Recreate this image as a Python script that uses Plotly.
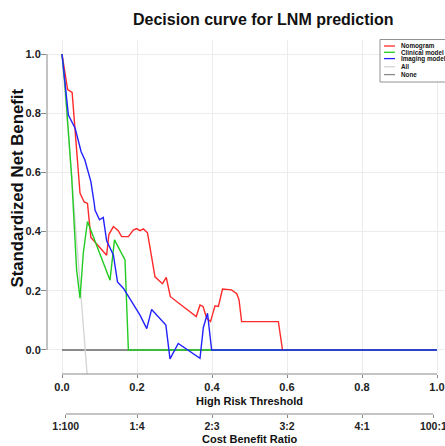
import plotly.graph_objects as go

# ---------------- data ----------------
nomogram_x = [0, 0.015, 0.027, 0.048, 0.059, 0.068, 0.077, 0.095, 0.113, 0.119, 0.125, 0.137,
              0.150, 0.159, 0.177, 0.190, 0.199, 0.208, 0.217, 0.228, 0.248, 0.268, 0.278,
              0.289, 0.358, 0.368, 0.376, 0.386, 0.396, 0.408, 0.417, 0.428, 0.452, 0.466,
              0.472, 0.479, 0.577, 0.588, 1.0]
nomogram_y = [1.0, 0.88, 0.87, 0.53, 0.50, 0.495, 0.38, 0.355, 0.327, 0.32, 0.39, 0.417,
              0.403, 0.383, 0.383, 0.405, 0.41, 0.403, 0.409, 0.396, 0.247, 0.224, 0.245,
              0.18, 0.113, 0.152, 0.147, 0.107, 0.096, 0.149, 0.147, 0.206, 0.203, 0.19,
              0.17, 0.096, 0.096, 0.0, 0.0]

clinical_x = [0, 0.008, 0.026, 0.039, 0.048, 0.057, 0.068, 0.128, 0.140, 0.168, 0.177, 1.0]
clinical_y = [1.0, 0.895, 0.58, 0.27, 0.175, 0.33, 0.434, 0.236, 0.372, 0.304, 0.0, 0.0]

imaging_x = [0, 0.017, 0.035, 0.051, 0.061, 0.077, 0.086, 0.088, 0.100, 0.110, 0.119, 0.137,
             0.148, 0.164, 0.208, 0.226, 0.239, 0.277, 0.288, 0.310, 0.368, 0.377, 0.388,
             0.399, 1.0]
imaging_y = [1.0, 0.794, 0.749, 0.67, 0.642, 0.569, 0.495, 0.473, 0.44, 0.448, 0.369, 0.321,
             0.23, 0.208, 0.118, 0.072, 0.137, 0.084, -0.03, 0.022, -0.028, 0.076, 0.124,
             0.0, 0.0]

all_x = [0, 0.031, 0.062, 0.0675]
all_y = [1.0, 0.5, 0.0, -0.09]

none_x = [0, 1]
none_y = [0, 0]

series_names = ["Nomogram", "Clinical model", "Imaging model", "All", "None"]
series_colors = ["#ff2a2a", "#22cc22", "#2222ff", "#d4d4d4", "#8a8a8a"]

threshold_ticks = [0.0, 0.2, 0.4, 0.6, 0.8, 1.0]
threshold_labels = ["0.0", "0.2", "0.4", "0.6", "0.8", "1.0"]
nb_ticks = [0.0, 0.2, 0.4, 0.6, 0.8, 1.0]
nb_labels = ["0.0", "0.2", "0.4", "0.6", "0.8", "1.0"]
cost_benefit_labels = ["1:100", "1:4", "2:3", "3:2", "4:1", "100:1"]

# ---------------- layout geometry ----------------
W, H = 445, 446
ML, MR, MT, MB = 47, 0, 40, 32
PW = W - ML - MR
PH = H - MT - MB
MAIN_BOTTOM = 374  # pixel of main x axis
ydom0 = (H - MB - MAIN_BOTTOM) / PH

X_RANGE = [-0.04, 1.0213]
Y_RANGE = [-0.0811, 1.0473]

FONT = "Arial, Liberation Sans, Helvetica, sans-serif"


def px_x(px):
    return (px - ML) / PW


def px_y(py):
    return (H - MB - py) / PH


cb_ticks = []
for lab in cost_benefit_labels:
    a, b = lab.split(":")
    cb_ticks.append(float(a) / (float(a) + float(b)))

fig = go.Figure()

order = [4, 3, 0, 1, 2]
xs = [nomogram_x, clinical_x, imaging_x, all_x, none_x]
ys = [nomogram_y, clinical_y, imaging_y, all_y, none_y]
widths = [1.4, 1.4, 1.4, 1.3, 1.8]
for i in order:
    fig.add_trace(go.Scatter(x=xs[i], y=ys[i], mode="lines", name=series_names[i],
                             line=dict(color=series_colors[i], width=widths[i]),
                             showlegend=False, hoverinfo="skip"))

# invisible trace so the cost-benefit axis is built
fig.add_trace(go.Scatter(x=cb_ticks, y=[None] * len(cb_ticks), xaxis="x2", yaxis="y",
                         mode="markers", showlegend=False, hoverinfo="skip",
                         marker=dict(opacity=0)))

tickfont = dict(family=FONT, size=11, color="#222222", weight="bold")
tickfont2 = dict(family=FONT, size=10.5, color="#222222", weight="bold")

fig.update_layout(
    width=W, height=H,
    margin=dict(l=ML, r=MR, t=MT, b=MB, autoexpand=False),
    paper_bgcolor="white", plot_bgcolor="white",
    template="none",
    showlegend=False,
    xaxis=dict(range=X_RANGE, domain=[0, 1], anchor="y", tickvals=threshold_ticks,
               ticktext=threshold_labels, ticks="outside", ticklen=3, tickcolor="#888888",
               tickwidth=1, showline=False, zeroline=False, showgrid=True,
               gridcolor="#ececec", gridwidth=1, tickfont=tickfont, automargin=False,
               ticklabeloverflow="allow"),
    xaxis2=dict(range=X_RANGE, overlaying="x", anchor="free", position=0, side="bottom",
                tickvals=cb_ticks, ticktext=cost_benefit_labels, ticks="outside", ticklen=3,
                tickcolor="#888888", tickwidth=1, showline=False, zeroline=False,
                showgrid=False, tickfont=tickfont2, automargin=False,
                ticklabeloverflow="allow", ticklabelstandoff=-1),
    yaxis=dict(range=Y_RANGE, domain=[ydom0, 1], anchor="x", tickvals=nb_ticks,
               ticktext=nb_labels, ticks="outside", ticklen=5, tickcolor="#888888",
               tickwidth=1, showline=False, zeroline=False, showgrid=True,
               gridcolor="#ececec", gridwidth=1, tickfont=tickfont, automargin=False,
               ticklabelstandoff=-2),
)

shapes = []
axis_col = "#888888"
# y axis line from 0 to 1
shapes.append(dict(type="line", xref="paper", yref="y", x0=0, x1=0, y0=nb_ticks[0],
                   y1=nb_ticks[-1], line=dict(color=axis_col, width=1)))
# main x axis line from 0 to 1
shapes.append(dict(type="line", xref="x", yref="paper", x0=threshold_ticks[0],
                   x1=threshold_ticks[-1], y0=ydom0, y1=ydom0,
                   line=dict(color=axis_col, width=1)))
# cost benefit axis line
shapes.append(dict(type="line", xref="x2", yref="paper", x0=cb_ticks[0], x1=cb_ticks[-1],
                   y0=0, y1=0, line=dict(color=axis_col, width=1)))

# legend box (manual, clipped at right edge like the reference)
LX0, LX1, LY0, LY1 = 380, 452, 39.5, 82
shapes.append(dict(type="rect", xref="paper", yref="paper", x0=px_x(LX0), x1=px_x(LX1),
                   y0=px_y(LY1), y1=px_y(LY0), line=dict(color="#777777", width=0.8),
                   fillcolor="white", layer="above"))
legend_rows = [46.0, 52.3, 58.6, 66.8, 74.6]
annotations = []
for i, name in enumerate(series_names):
    yy = px_y(legend_rows[i])
    shapes.append(dict(type="line", xref="paper", yref="paper", x0=px_x(384), x1=px_x(395),
                       y0=yy, y1=yy, line=dict(color=series_colors[i], width=1.3),
                       layer="above"))
    annotations.append(dict(text=name, xref="paper", yref="paper", x=px_x(399), y=yy,
                            xanchor="left", yanchor="middle", showarrow=False,
                            font=dict(family=FONT, size=6.3, color="#111111",
                                      weight="bold")))

annotations += [
    dict(text="Decision curve for LNM prediction", xref="paper", yref="paper",
         x=px_x(263), y=px_y(19), xanchor="center", yanchor="middle", showarrow=False,
         font=dict(family=FONT, size=16, color="#111111", weight="bold")),
    dict(text="Standardized Net Benefit", xref="paper", yref="paper", x=px_x(16.5),
         y=px_y(188), xanchor="center", yanchor="middle", textangle=-90, showarrow=False,
         font=dict(family=FONT, size=16.8, color="#111111", weight="bold")),
    dict(text="High Risk Threshold", xref="paper", yref="paper", x=px_x(249), y=px_y(401),
         xanchor="center", yanchor="middle", showarrow=False,
         font=dict(family=FONT, size=11, color="#111111", weight="bold")),
    dict(text="Cost Benefit Ratio", xref="paper", yref="paper", x=px_x(250), y=px_y(438.5),
         xanchor="center", yanchor="middle", showarrow=False,
         font=dict(family=FONT, size=11, color="#111111", weight="bold")),
]

fig.update_layout(shapes=shapes, annotations=annotations)
fig.write_html("out.html")
